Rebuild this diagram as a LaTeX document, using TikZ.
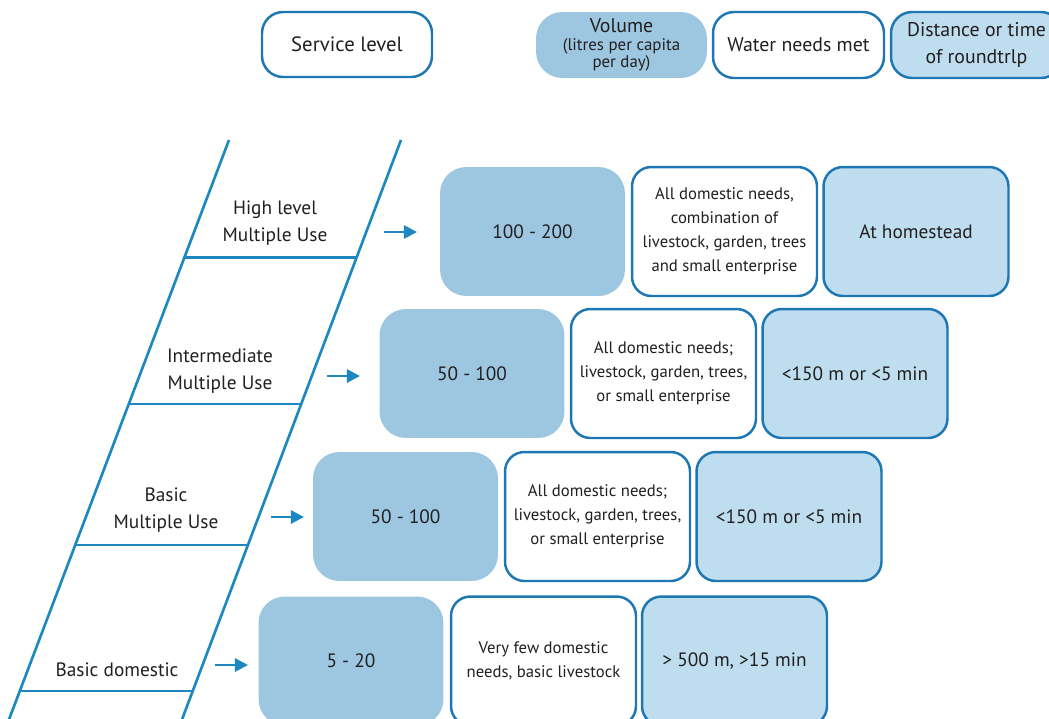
\documentclass[tikz,border=0pt]{standalone}
\usepackage{fontspec}
\setmainfont{PT Sans}
\usetikzlibrary{arrows.meta}
\definecolor{volc}{HTML}{9DC6E0}
\definecolor{distc}{HTML}{BEDDEF}
\definecolor{bord}{HTML}{1C77B4}
\definecolor{rail}{HTML}{1C87C0}
\definecolor{txt}{HTML}{231F20}
\tikzset{
  box/.style={minimum width=3.7cm, minimum height=2.58cm, inner sep=0pt, align=center, text=txt},
  vol/.style={box, fill=volc, rounded corners=15pt, font=\fontsize{11}{13}\selectfont},
  need/.style={box, fill=white, draw=bord, line width=1.4pt, rounded corners=11pt, font=\fontsize{9.5}{13.6}\selectfont},
  dist/.style={box, fill=distc, draw=bord, line width=1.4pt, rounded corners=11pt, font=\fontsize{11}{13}\selectfont},
  hdr/.style={minimum width=3.42cm, minimum height=1.32cm, inner sep=0pt, align=center, text=txt, font=\fontsize{11.3}{15.3}\selectfont},
  lbl/.style={align=center, text=txt, font=\fontsize{11}{15.3}\selectfont},
  railline/.style={draw=rail, line width=1.5pt},
  arr/.style={draw=rail, line width=1.6pt, -{Triangle[length=7.5pt,width=7.5pt]}}
}
\begin{document}
\begin{tikzpicture}[x=0.02cm,y=-0.02cm]
\useasboundingbox (0,0) rectangle (1049,718);
\clip (0,0) rectangle (1049,718);
% header
\node[hdr, draw=bord, line width=1.4pt, rounded corners=12pt, fill=white, minimum width=3.4cm, minimum height=1.3cm, font=\fontsize{11.8}{15}\selectfont] (hsl) at (347,44.5) {Service level};
\node[hdr, fill=volc, rounded corners=15pt, font=\fontsize{9.6}{10}\selectfont] (hvol) at (621.5,45) {{\fontsize{11.3}{10}\selectfont Volume}\\(litres per capita\\per day)};
\node[hdr, fill=white, draw=bord, line width=1.4pt, rounded corners=12pt] (hneed) at (798.5,45) {Water needs met};
\node[hdr, fill=distc, draw=bord, line width=1.4pt, rounded corners=12pt] (hdist) at (976.5,45) {Distance or time\\of roundtrlp};
% ladder
\coordinate (lt) at (229,140); \coordinate (lb) at (5,730);
\coordinate (rt) at (401,140); \coordinate (rb) at (178,730);
\draw[railline] (lt) -- (lb);
\draw[railline] (rt) -- (rb);
\coordinate (r1a) at (184,257.5); \coordinate (r1b) at (356,257.5);
\coordinate (r2a) at (129,404); \coordinate (r2b) at (301,404);
\coordinate (r3a) at (76,545); \coordinate (r3b) at (248,545);
\coordinate (r4a) at (21,691); \coordinate (r4b) at (193,691);
\draw[railline] (r1a) -- (r1b);
\draw[railline] (r2a) -- (r2b);
\draw[railline] (r3a) -- (r3b);
\draw[railline] (r4a) -- (r4b);
\node[lbl] (l1) at (275,223.5) {High level\\Multiple Use};
\node[lbl] (l2) at (220,371) {Intermediate\\Multiple Use};
\node[lbl] (l3) at (166,510.5) {Basic\\Multiple Use};
\node[lbl] (l4) at (117,669.5) {Basic domestic};
% arrows
\coordinate (a1s) at (384,232); \coordinate (a1e) at (417,232);
\coordinate (a2s) at (327,376); \coordinate (a2e) at (360,376);
\coordinate (a3s) at (271,517); \coordinate (a3e) at (304,517);
\coordinate (a4s) at (215,665); \coordinate (a4e) at (248,665);
\draw[arr] (a1s) -- (a1e);
\draw[arr] (a2s) -- (a2e);
\draw[arr] (a3s) -- (a3e);
\draw[arr] (a4s) -- (a4e);
% row 1
\node[vol] (v1) at (532.5,231.5) {100 - 200};
\node[need] (n1) at (724.5,231.5) {All domestic needs,\\combination of\\livestock, garden, trees\\and small enterprise};
\node[dist] (d1) at (916,231.5) {At homestead};
% row 2
\node[vol] (v2) at (472,373.5) {50 - 100};
\node[need] (n2) at (663.5,373.5) {All domestic needs;\\livestock, garden, trees,\\or small enterprise};
\node[dist] (d2) at (855,373.5) {<150 m or <5 min};
% row 3
\node[vol] (v3) at (405.5,516.5) {50 - 100};
\node[need] (n3) at (597.5,516.5) {All domestic needs;\\livestock, garden, trees,\\or small enterprise};
\node[dist] (d3) at (789,516.5) {<150 m or <5 min};
% row 4
\node[vol] (v4) at (351,661) {5 - 20};
\node[need] (n4) at (543.5,661) {Very few domestic\\needs, basic livestock};
\node[dist] (d4) at (734.5,661) {> 500 m, >15 min};
\end{tikzpicture}
\end{document}
